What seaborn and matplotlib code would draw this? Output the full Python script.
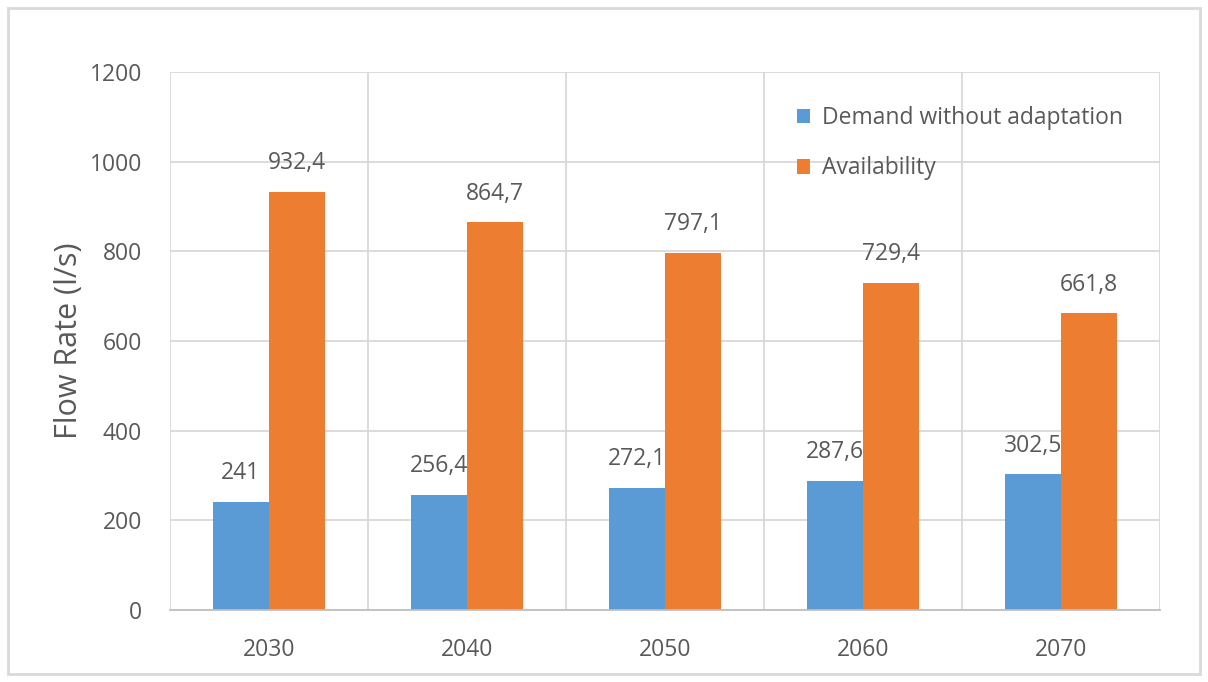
import pandas as pd
import numpy as np
import seaborn as sns
import matplotlib.pyplot as plt
from matplotlib.patches import Rectangle

years = ['2030', '2040', '2050', '2060', '2070']
demand = [241, 256.4, 272.1, 287.6, 302.5]
availability = [932.4, 864.7, 797.1, 729.4, 661.8]
series = ['Demand without adaptation', 'Availability']
colors = ['#5b9bd5', '#ed7d31']

df = pd.DataFrame({
    'Year': years * 2,
    'Value': demand + availability,
    'Series': [series[0]] * len(years) + [series[1]] * len(years),
})

sns.set_style('white')
plt.rcParams['font.family'] = ['Open Sans', 'DejaVu Sans']
txt = '#595959'
grid = '#d9d9d9'

fig = plt.figure(figsize=(12.08, 6.82), dpi=100)
ax = fig.add_axes([0.1407, 0.1056, 0.8196, 0.7888])

sns.barplot(data=df, x='Year', y='Value', hue='Series', palette=colors,
            width=0.57, saturation=1, ax=ax, errorbar=None, linewidth=0)

def fmt(v):
    return ('%g' % v).replace('.', ',')

for c in ax.containers:
    ax.bar_label(c, labels=[fmt(v) for v in c.datavalues], padding=12,
                 color=txt, fontsize=16.5)

ax.set_ylim(0, 1200)
ax.set_yticks(range(0, 1201, 200))
ax.set_xlim(-0.5, 4.5)
ax.set_xticks(np.arange(-0.5, 4.6, 1), minor=True)
ax.grid(axis='y', color=grid, linewidth=1.3)
ax.grid(axis='x', which='minor', color=grid, linewidth=1.3)
ax.set_axisbelow(True)
for s in ax.spines.values():
    s.set_visible(False)
ax.spines['bottom'].set_visible(True)
ax.spines['bottom'].set_color('#bfbfbf')
ax.spines['bottom'].set_linewidth(1.3)
ax.tick_params(axis='both', which='both', length=0, labelsize=16.5, colors=txt)
ax.tick_params(axis='y', pad=20)
ax.tick_params(axis='x', pad=20)
ax.set_xlabel('')
ax.set_ylabel('Flow Rate (l/s)', fontsize=22, color=txt, labelpad=4)

ax.legend(loc='upper left', bbox_to_anchor=(0.612, 0.975), frameon=False,
          fontsize=16.5, labelcolor=txt, handlelength=0.6, handleheight=0.6,
          handletextpad=0.5, labelspacing=1.15)

fig.patches.append(Rectangle((0.007, 0.012), 0.986, 0.976, transform=fig.transFigure,
                             fill=False, edgecolor='#d9d9d9', linewidth=2))

fig.savefig('out.png', dpi=100)
